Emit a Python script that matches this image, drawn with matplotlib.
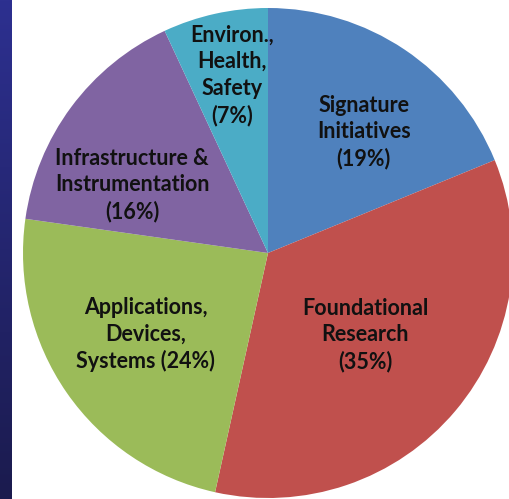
import matplotlib
matplotlib.use("Agg")
import matplotlib.pyplot as plt
import numpy as np
from matplotlib.colors import LinearSegmentedColormap

# portfolio shares, clockwise from 12 o'clock
categories = [
    "Signature\nInitiatives\n(19%)",
    "Foundational\nResearch\n(35%)",
    "Applications,\nDevices,\nSystems (24%)",
    "Infrastructure &\nInstrumentation\n(16%)",
    "Environ.,\nHealth,\nSafety\n(7%)",
]
shares = [19, 35, 24, 16, 7]
colors = ["#4f81bd", "#c0504d", "#9bbb59", "#8064a2", "#4bacc6"]

# where each label sits: fraction of radius, and a small turn off the wedge middle (deg)
label_r = [0.63, 0.52, 0.60, 0.62, 0.74]
label_turn = [-4.5, 0, -1, 10, -1]

W, H = 510, 499
fig = plt.figure(figsize=(W / 100, H / 100), dpi=100)
fig.patch.set_facecolor("white")

ax = fig.add_axes([0, 0, 1, 1])

cx, cy, rad = 268, H - 253, 245
wedges, _ = ax.pie(shares, colors=colors, startangle=90, counterclock=False,
                   center=(cx, cy), radius=rad, frame=True,
                   wedgeprops={"linewidth": 0})
ax.set_xlim(0, W)
ax.set_ylim(0, H)
ax.set_aspect("equal")
ax.axis("off")

for w, txt, rf, turn in zip(wedges, categories, label_r, label_turn):
    mid = np.deg2rad((w.theta1 + w.theta2) / 2 + turn)
    ax.text(cx + rf * rad * np.cos(mid), cy + rf * rad * np.sin(mid), txt,
            ha="center", va="center", fontsize=15.5, fontweight="bold",
            family="Lato", color="#111111", linespacing=1.32)

# dark blue band down the left edge
band = fig.add_axes([0, 0, 12 / W, 1])
grad = np.linspace(0, 1, 256).reshape(-1, 1)
cmap = LinearSegmentedColormap.from_list("band", ["#2d3090", "#1b1b4e"])
band.imshow(grad, aspect="auto", cmap=cmap)
band.axis("off")

fig.savefig("out.png", dpi=100)
